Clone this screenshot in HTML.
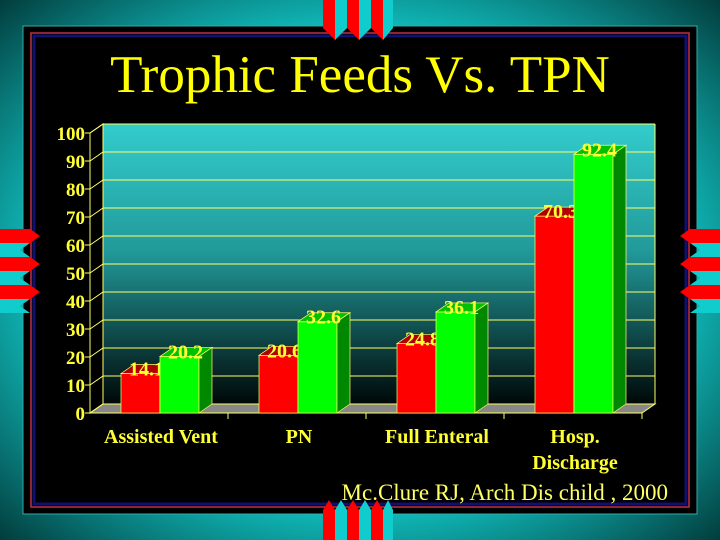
<!DOCTYPE html>
<html><head><meta charset="utf-8"><style>
body{margin:0;width:720px;height:540px;overflow:hidden;background:#000}
svg{display:block}
text{font-family:"Liberation Serif",serif}
</style></head><body>
<svg width="720" height="540" viewBox="0 0 720 540">
<defs>
<radialGradient id="bg" cx="50%" cy="50%" r="75%"><stop offset="0" stop-color="#20d8d8"/><stop offset="0.6" stop-color="#10b8b8"/><stop offset="1" stop-color="#002828"/></radialGradient>
<linearGradient id="wall" x1="0" y1="0" x2="0" y2="1"><stop offset="0" stop-color="#33cccc"/><stop offset="0.45" stop-color="#229a9a"/><stop offset="1" stop-color="#000808"/></linearGradient>
</defs>
<rect width="720" height="540" fill="url(#bg)"/>
<rect x="23" y="26" width="674" height="488" fill="#000" stroke="#3aa" stroke-width="1"/>
<rect x="31" y="33" width="658" height="474" fill="none" stroke="#c03040" stroke-width="1.5"/>
<rect x="34" y="36" width="652" height="468" fill="none" stroke="#101070" stroke-width="3"/>
<g>
<polygon points="323,0 335,0 335,40 323,28" fill="#f00"/><polygon points="335,0 347,0 347,28 335,40" fill="#1cc"/>
<polygon points="347,0 359,0 359,40 347,28" fill="#f00"/><polygon points="359,0 371,0 371,28 359,40" fill="#1cc"/>
<polygon points="371,0 383,0 383,40 371,28" fill="#f00"/><polygon points="383,0 393,0 393,28 383,40" fill="#1cc"/>
</g>
<g>
<polygon points="0,229 30,229 40,236 30,243 0,243" fill="#f00"/><polygon points="0,243 30,243 20,250 30,257 0,257" fill="#1cc"/>
<polygon points="0,257 30,257 40,264 30,271 0,271" fill="#f00"/><polygon points="0,271 30,271 20,278 30,285 0,285" fill="#1cc"/>
<polygon points="0,285 30,285 40,292 30,299 0,299" fill="#f00"/><polygon points="0,299 30,299 20,306 30,313 0,313" fill="#1cc"/>
</g>
<g>
<polygon points="720,229 690,229 680,236 690,243 720,243" fill="#f00"/><polygon points="720,243 690,243 700,250 690,257 720,257" fill="#1cc"/>
<polygon points="720,257 690,257 680,264 690,271 720,271" fill="#f00"/><polygon points="720,271 690,271 700,278 690,285 720,285" fill="#1cc"/>
<polygon points="720,285 690,285 680,292 690,299 720,299" fill="#f00"/><polygon points="720,299 690,299 700,306 690,313 720,313" fill="#1cc"/>
</g>
<g>
<polygon points="323,540 335,540 335,510 329,500 323,510" fill="#f00"/><polygon points="335,540 347,540 347,510 341,500 335,510" fill="#1cc"/>
<polygon points="347,540 359,540 359,510 353,500 347,510" fill="#f00"/><polygon points="359,540 371,540 371,510 365,500 359,510" fill="#1cc"/>
<polygon points="371,540 383,540 383,510 377,500 371,510" fill="#f00"/><polygon points="383,540 393,540 393,510 388,500 383,510" fill="#1cc"/>
</g>
<text x="360" y="92" text-anchor="middle" font-size="53" fill="#ffff00">Trophic Feeds Vs. TPN</text>
<g id="chart"></g>
<text x="668" y="500" text-anchor="end" font-size="23" fill="#ffff66">Mc.Clure RJ, Arch Dis child , 2000</text>
</svg>
<script>
const categories=["Assisted Vent","PN","Full Enteral","Hosp.|Discharge"];
const seriesRed=[14.1,20.6,24.8,70.3];
const seriesGreen=[20.2,32.6,36.1,92.4];
const yTicks=[0,10,20,30,40,50,60,70,80,90,100];
const NS="http://www.w3.org/2000/svg";
const g=document.getElementById('chart');
const X0=90,X1=642,Y0=413,Y1=133,DX=13,DY=-9;
const y=v=>Y0-(v/100)*(Y0-Y1);
const gw=(X1-X0)/categories.length;
function mk(t,a,p){const e=document.createElementNS(NS,t);for(const k in a)e.setAttribute(k,a[k]);(p||g).appendChild(e);return e;}
const wall=mk('rect',{x:X0+DX,y:y(100)+DY,width:X1-X0,height:Y0-Y1,fill:'url(#wall)'});


mk('polygon',{points:`${X0},${y(0)} ${X0+DX},${y(0)+DY} ${X0+DX},${y(100)+DY} ${X0},${y(100)}`,fill:'#000',stroke:'#ffff66','stroke-width':1});
const floor=mk('polygon',{points:`${X0},${Y0} ${X0+DX},${Y0+DY} ${X1+DX},${Y0+DY} ${X1},${Y0}`,fill:'#888',stroke:'#ffff66','stroke-width':1});


yTicks.forEach(t=>{
  const yy=y(t);
  const l=mk('polyline',{points:`${X0},${yy} ${X0+DX},${yy+DY} ${X1+DX},${yy+DY}`,fill:'none',stroke:'#ffff66','stroke-width':1});
  
  
  mk('line',{x1:X0-5,y1:yy,x2:X0,y2:yy,stroke:'#ffff66'});
  const tx=mk('text',{x:X0-5,y:yy+7,'text-anchor':'end','font-size':19,'font-weight':'bold',fill:'#ffff33'});
  tx.textContent=t;
  
  
});
mk('line',{x1:X1+DX,y1:y(0)+DY,x2:X1+DX,y2:y(100)+DY,stroke:'#ffff66'});
mk('line',{x1:X0,y1:Y0,x2:X1,y2:Y0,stroke:'#ffff66'});
const bw=39;
function bar(x,v,front,top,side,name){
  const yt=y(v);
  const b=mk('g',{});
  
  
  mk('rect',{x:x,y:yt,width:bw,height:Y0-yt,fill:front,stroke:'#ffff66','stroke-width':0.7},b);
  mk('polygon',{points:`${x},${yt} ${x+DX},${yt+DY} ${x+bw+DX},${yt+DY} ${x+bw},${yt}`,fill:top,stroke:'#ffff66','stroke-width':0.7},b);
  mk('polygon',{points:`${x+bw},${yt} ${x+bw+DX},${yt+DY} ${x+bw+DX},${Y0+DY} ${x+bw},${Y0}`,fill:side,stroke:'#ffff66','stroke-width':0.7},b);
  const t=mk('text',{x:x+bw/2+6,y:yt+2,'text-anchor':'middle','font-size':20,'font-weight':'bold',fill:'#ffff33'});
  t.textContent=v;
  
  
}
categories.forEach((c,i)=>{
  const gx=X0+i*gw;
  if(i>0) mk('line',{x1:gx,y1:Y0,x2:gx,y2:Y0+6,stroke:'#ffff66'});
  bar(gx+31,seriesRed[i],'#ff0000','#b00000','#a00000','bar-trophic-'+i);
  bar(gx+31+bw,seriesGreen[i],'#00ff00','#00c000','#008800','bar-tpn-'+i);
  c.split('|').forEach((ln,j)=>{
    const t=mk('text',{x:gx+gw/2+2,y:443+j*26,'text-anchor':'middle','font-size':20,'font-weight':'bold',fill:'#ffff33'});
    t.textContent=ln;
    
    
  });
});
mk('line',{x1:X1,y1:Y0,x2:X1,y2:Y0+6,stroke:'#ffff66'});
</script>
</body></html>
